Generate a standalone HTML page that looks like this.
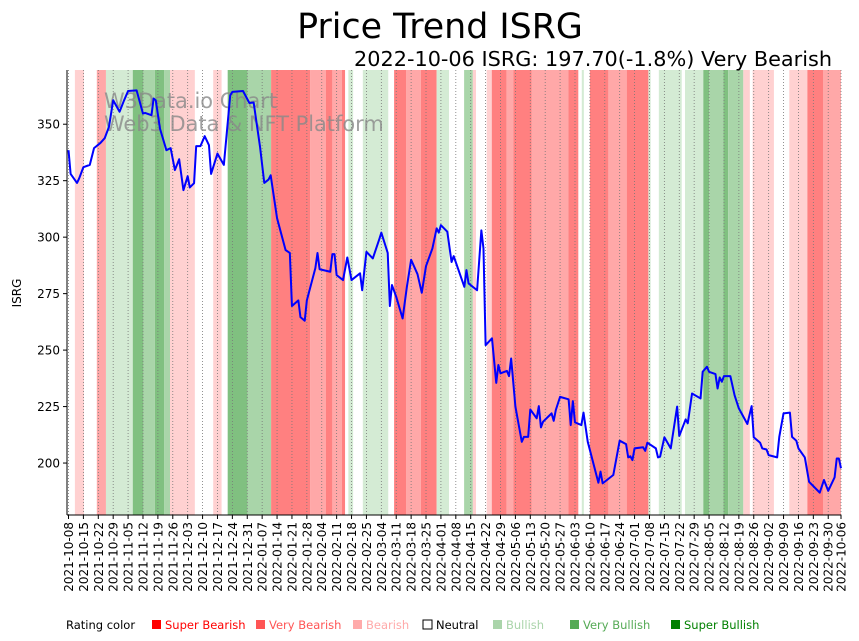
<!DOCTYPE html>
<html><head><meta charset="utf-8">
<style>
body{margin:0;background:#fff;}
svg{display:block;font-family:"DejaVu Sans","Liberation Sans",sans-serif;}
</style></head>
<body>
<svg id="chart" width="859" height="641" viewBox="0 0 859 641" xmlns="http://www.w3.org/2000/svg">
<g id="bands"></g>
<g id="grid"></g>
<text x="104" y="108" font-size="20.9" fill="#888" fill-opacity="0.8">W3Data.io Chart</text>
<text x="104" y="131" font-size="20.9" fill="#888" fill-opacity="0.8">Web3 Data &amp; NFT Platform</text>
<g id="line"></g>
<g id="axes"></g>
<text x="440" y="38" font-size="34.8" text-anchor="middle">Price Trend ISRG</text>
<text x="832" y="66" font-size="20.8" text-anchor="end">2022-10-06 ISRG: 197.70(-1.8%) Very Bearish</text>
<text transform="translate(21,293) rotate(-90)" font-size="12" text-anchor="middle">ISRG</text>
<g id="legend"></g>
</svg>
<script>
// day offsets from 2021-10-08 and closing prices
const days=[0,1,4,5,7,10,12,15,17,19,21,24,26,28,32,35,36,39,40,41,43,46,48,50,52,54,56,57,59,60,62,64,66,67,70,73,76,77,82,85,87,90,92,94,95,98,102,104,105,108,109,111,112,116,117,118,123,124,125,126,129,131,133,137,138,140,143,146,147,150,151,152,154,157,159,161,164,166,168,171,173,174,175,178,180,181,186,187,188,192,194,195,196,199,201,202,203,206,207,208,210,213,214,216,217,220,221,222,223,227,228,229,231,235,236,237,238,241,242,244,249,250,251,256,259,262,263,264,265,266,270,271,272,276,277,278,280,283,286,287,290,291,293,297,298,300,301,304,305,306,307,308,311,313,315,319,321,322,325,326,328,329,333,334,336,339,340,342,343,346,348,353,355,357,360,361,362,363];
const prices=[338.5,328,324,326,331,332,339.4,341.7,343.8,348.8,360.6,355.5,360.3,364.7,365,354.7,355,354,361.4,360.6,348,338.5,339.4,329.7,334.5,320.8,327,322,323.9,340.3,340.3,344.7,340.7,328,337,332,362.8,364.3,364.7,359.4,359.6,340,324,325.5,327.4,308.4,294.3,293,269.5,272,264.6,263,272,286.3,293,285.8,284.7,292.5,292.5,283.2,281,291,281,284,276.5,293.5,290.6,299,302,293,269.5,278.8,273.6,264,278,290,283.6,275.4,287.2,295,303.9,302,305.3,302.4,289,291.6,278,285.4,279.5,276.5,303,295,252.2,255.2,235.5,243.4,239.7,240.8,238.5,246.3,225,209.4,211.6,211.6,223.7,219.8,225.2,215.8,218.3,222,218.7,223.5,229.3,228.2,216.8,227.4,218,216.8,222.3,209.4,191.3,196.2,191,194.7,209.9,208.4,202.5,203,201.3,206.5,207,205.4,209,206.5,202.5,202.8,211.4,206.5,225,212,219.3,217.6,230.8,228.6,240.4,242.6,240.4,239.4,233,237.9,236,238.5,238.5,230,224.2,217.3,225.2,211.4,209,206.5,206,203.5,202.5,211.6,222,222.3,211.6,209.9,206.5,202.5,191.7,186.9,192.5,187.7,193.7,202,202,197.7];
// rating bands: start day and rating (-3..3); each band ends at next start
const bandStarts=[0,3,7.3,13.3,17.6,30.2,35.2,40.6,44.9,47.7,59.4,68,72,74.8,84.2,95.2,113.5,121,124,128.4,130,131.5,133.8,138.3,150.3,153,158.6,165.6,173,178.8,185.9,190,191.5,196.5,198.9,205.9,209,217.7,234.9,239.6,241.2,242.2,245,253.7,262.3,272.5,273.6,277.4,288.2,289.7,298.3,301.1,307.7,310,317.1,320.2,321.5,331.5,338.7,347.2,354.7];
const bandRatings=[0,-1,0,-2,1,3,2,3,2,-1,0,-1,0,3,2,-3,-2,-3,-2,-3,0,1,0,1,0,-3,-2,-3,1,0,2,-1,0,-1,-3,-2,-3,-2,-3,0,1,0,-3,-2,-3,1,0,1,0,1,3,2,3,2,-1,0,-1,0,-1,-3,-2];
const lastDay=363;
const yTicks=[200,225,250,275,300,325,350];
const startDate=new Date(Date.UTC(2021,9,8));
const legendLabels=["Super Bearish","Very Bearish","Bearish","Neutral","Bullish","Very Bullish","Super Bullish"];

const NS="http://www.w3.org/2000/svg";
const X0=68.5,X1=841,PL=67,PT=70,PB=515,YMIN=177,YMAX=374;
const xS=d=>X0+(d/lastDay)*(X1-X0);
const yS=v=>PB-(v-YMIN)/(YMAX-YMIN)*(PB-PT);
const bandColor={"-3":"#ff8080","-2":"#ffa8a8","-1":"#ffd1d1","0":"#ffffff","1":"#d4ebd4","2":"#a9d5a9","3":"#80c080"};
function mk(tag,attrs,parent){const e=document.createElementNS(NS,tag);for(const k in attrs)e.setAttribute(k,attrs[k]);parent.appendChild(e);return e;}

const gB=document.getElementById('bands');
bandStarts.forEach((s,i)=>{
  const e_=i+1<bandStarts.length?bandStarts[i+1]:lastDay;
  const r=mk('rect',{x:xS(s),y:PT,width:Math.max(0,xS(e_)-xS(s)),height:PB-PT,fill:bandColor[bandRatings[i]]},gB);
  
  
});

const tickDays=[];for(let d=0;d<=lastDay-6;d+=7)tickDays.push(d);tickDays.push(lastDay);
const fmt=d=>{const t=new Date(startDate.getTime()+d*86400000);return t.toISOString().slice(0,10);};
const gG=document.getElementById('grid'),gA=document.getElementById('axes');
tickDays.forEach(d=>{
  const x=xS(d);
  const l=mk('line',{x1:x,x2:x,y1:PT,y2:PB,stroke:'#777','stroke-width':0.8,'stroke-dasharray':'1,2'},gG);
  
  
  mk('line',{x1:x,x2:x,y1:PB,y2:PB+4,stroke:'#000','stroke-width':1},gA);
  const t=mk('text',{transform:`translate(${x+4.5},${PB+7}) rotate(-90)`,'font-size':12,'text-anchor':'end'},gA);
  t.textContent=fmt(d);
  
  
});
yTicks.forEach(v=>{
  const y=yS(v);
  mk('line',{x1:PL-4,x2:PL,y1:y,y2:y,stroke:'#000','stroke-width':1},gA);
  const t=mk('text',{x:PL-7,y:y+4.5,'font-size':12,'text-anchor':'end'},gA);
  t.textContent=v;
  
  
});
mk('line',{x1:PL,x2:PL,y1:PT,y2:PB,stroke:'#000','stroke-width':1},gA);
mk('line',{x1:PL,x2:X1,y1:PB,y2:PB,stroke:'#000','stroke-width':1},gA);

const gL=document.getElementById('line');
const p=mk('polyline',{points:days.map((d,i)=>xS(d)+','+yS(prices[i])).join(' '),fill:'none',stroke:'#0000ff','stroke-width':2,'stroke-linejoin':'round'},gL);



const gLe=document.getElementById('legend');
const legX=[151,255,352,422,492,569,670],legC=["#ff0000","#ff5555","#ffaaaa","#000","#aad4aa","#55aa55","#008000"],legFill=["#ff0000","#ff5555","#ffaaaa","#fff","#aad4aa","#55aa55","#008000"];
const lt=mk('text',{x:66,y:629,'font-size':11.5},gLe);lt.textContent='Rating color';


legendLabels.forEach((lab,i)=>{
  const r=mk('rect',{x:legX[i]+1,y:620,width:9,height:9,fill:legFill[i],stroke:i===3?'#000':'none','stroke-width':1},gLe);
  
  
  const t=mk('text',{x:legX[i]+14,y:629,'font-size':11.5,fill:legC[i]},gLe);
  t.textContent=lab;
  
  
});
</script>
</body></html>
